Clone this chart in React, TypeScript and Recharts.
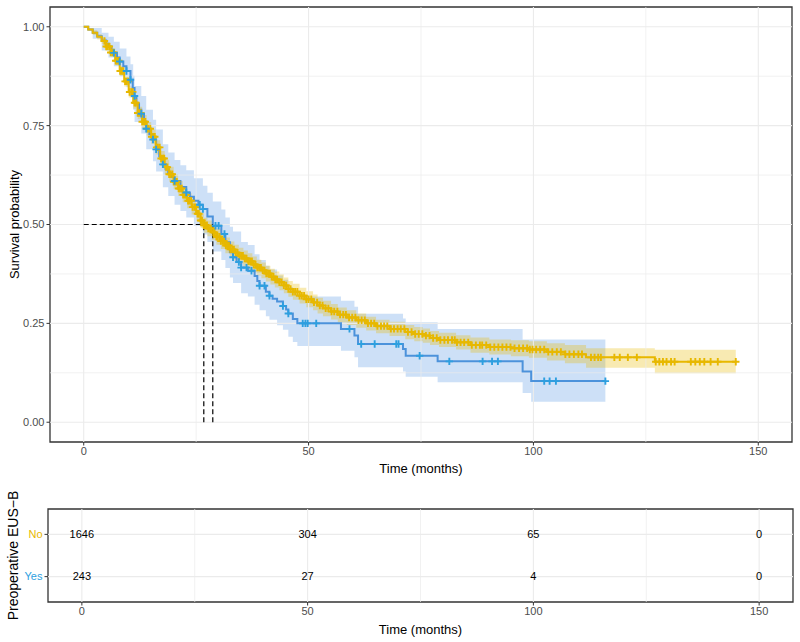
import {
  ComposedChart,
  Line,
  Area,
  Scatter,
  XAxis,
  YAxis,
  ReferenceLine,
  ReferenceArea,
  Label,
} from "recharts";

/* ---------- Kaplan-Meier curve: Preoperative EUS-B = No ---------- */
const noTimes = [0, 1, 2, 3, 4, 5, 6, 7, 8, 9, 10, 11, 12, 13, 14, 15, 16, 17, 18, 19, 20, 21, 22, 23, 24, 25, 26, 26.7, 27.5, 28.5, 29.5, 30.5, 31.5, 32.5, 33.5, 34.5, 35.5, 36.5, 37.5, 38.5, 39.5, 40.5, 41.5, 42.5, 43.5, 44.5, 45.5, 46.5, 48, 49.5, 51, 52, 53.2, 55, 56.5, 58.5, 60.6, 62.8, 65, 68, 71.5, 73.5, 75.4, 77, 79, 82.8, 86, 90.2, 95, 99, 103, 107, 111.7, 127, 145];
const noSurv = [1, 0.993, 0.985, 0.975, 0.964, 0.95, 0.935, 0.914, 0.888, 0.862, 0.835, 0.808, 0.782, 0.76, 0.742, 0.722, 0.695, 0.667, 0.645, 0.627, 0.608, 0.591, 0.575, 0.56, 0.544, 0.527, 0.51, 0.498, 0.49, 0.48, 0.469, 0.458, 0.447, 0.437, 0.429, 0.421, 0.414, 0.407, 0.399, 0.391, 0.384, 0.376, 0.368, 0.361, 0.354, 0.346, 0.337, 0.33, 0.32, 0.311, 0.303, 0.295, 0.288, 0.28, 0.272, 0.265, 0.258, 0.25, 0.243, 0.236, 0.228, 0.223, 0.219, 0.213, 0.208, 0.202, 0.195, 0.19, 0.187, 0.184, 0.178, 0.172, 0.164, 0.153, 0.153];
const noLower = [1, 0.989, 0.979, 0.968, 0.956, 0.941, 0.925, 0.903, 0.876, 0.849, 0.821, 0.793, 0.766, 0.743, 0.725, 0.704, 0.677, 0.648, 0.626, 0.608, 0.589, 0.572, 0.556, 0.541, 0.525, 0.508, 0.491, 0.479, 0.47, 0.46, 0.449, 0.438, 0.427, 0.417, 0.409, 0.401, 0.394, 0.387, 0.379, 0.371, 0.364, 0.356, 0.348, 0.341, 0.334, 0.326, 0.317, 0.31, 0.3, 0.291, 0.283, 0.275, 0.268, 0.26, 0.252, 0.246, 0.239, 0.232, 0.225, 0.218, 0.21, 0.205, 0.201, 0.195, 0.19, 0.184, 0.176, 0.171, 0.167, 0.163, 0.156, 0.149, 0.138, 0.124, 0.124];
const noUpper = [1, 0.997, 0.991, 0.982, 0.972, 0.959, 0.945, 0.925, 0.9, 0.875, 0.849, 0.823, 0.798, 0.777, 0.759, 0.74, 0.713, 0.686, 0.664, 0.646, 0.627, 0.61, 0.594, 0.579, 0.563, 0.546, 0.529, 0.517, 0.51, 0.5, 0.489, 0.478, 0.467, 0.457, 0.449, 0.441, 0.434, 0.427, 0.419, 0.411, 0.404, 0.396, 0.388, 0.381, 0.374, 0.366, 0.357, 0.35, 0.34, 0.331, 0.323, 0.315, 0.307, 0.299, 0.29, 0.283, 0.275, 0.267, 0.259, 0.254, 0.246, 0.241, 0.237, 0.231, 0.226, 0.22, 0.214, 0.209, 0.207, 0.205, 0.2, 0.195, 0.187, 0.183, 0.183];
const noCensored = [
  4.6, 5.0, 5.3, 5.7, 6.0, 6.4, 6.7, 7.1, 7.4, 7.8, 8.1, 8.5, 8.8, 9.2, 9.5, 9.9, 10.2, 10.6, 10.9, 11.3, 11.6, 12.0, 12.3, 12.7, 13.0, 13.4, 13.7, 14.1, 14.4, 14.8, 15.1, 15.5, 15.8, 16.2, 16.5, 16.9, 17.2, 17.6, 17.9, 18.3, 18.6, 19.0, 19.3, 19.7, 20.0, 20.4, 20.7, 21.1, 21.4, 21.8, 22.1, 22.5, 22.8, 23.2, 23.5, 23.9, 24.2, 24.6, 24.9, 25.3, 25.6, 26.0, 26.3, 26.7, 27.0, 27.4, 27.7, 28.1, 28.4, 28.8, 29.1, 29.5, 29.8, 30.2, 30.5, 30.9, 31.2, 31.6, 31.9, 32.3, 32.6, 33.0, 33.4, 33.8, 34.2, 34.6, 35.0, 35.4, 35.8, 36.2, 36.6, 37.0, 37.4, 37.8, 38.2, 38.6, 39.0, 39.4, 39.8, 40.2, 40.6, 41.0, 41.4, 41.8, 42.2, 42.6, 43.0, 43.5, 44.0, 44.5, 45.0, 45.5, 46.0, 46.5, 47.0, 47.5, 48.0, 48.5, 49.0, 49.5, 50.0,
  50.6, 51.2, 51.9, 52.5, 53.1, 53.8, 54.4, 55.1, 55.7, 56.4, 57.0, 57.7, 58.3, 59.0, 59.7, 60.4, 61.1, 61.8, 62.5, 63.2, 63.9, 64.6, 65.3, 66.1, 66.8, 67.5, 68.3, 69.0, 69.8, 70.5, 71.3, 72.1, 72.9, 73.7, 74.5, 75.3, 76.1, 76.9, 77.7, 78.5, 79.3, 80.2, 81.0, 81.9, 82.5, 83.0, 83.8, 84.6, 85.5, 86.3, 87.2, 88.1, 88.6, 89.5, 90.4, 91.3, 92.2, 93.1, 94.0, 94.9, 95.8, 96.8, 97.7, 98.6, 99.2, 99.8,
  100.6, 101.5, 102.4, 103.3, 104.2, 105.2, 106.1, 107.1, 108.0, 109.0, 110.0, 110.8, 112.8, 113.6, 114.4, 115.0, 118, 119.2, 121, 123, 127.2, 128, 128.8, 129.6, 130.6, 131.4, 135, 136, 137, 138, 139.4, 141, 145,
];

/* ---------- Kaplan-Meier curve: Preoperative EUS-B = Yes ---------- */
const yesTimes = [0, 1, 2, 3, 4, 5, 5.5, 6.2, 6.7, 7.4, 8, 8.8, 9.5, 10.4, 10.9, 11.3, 11.7, 12.3, 12.8, 13.4, 13.9, 14.6, 15.4, 16.1, 16.8, 17.6, 18.2, 18.8, 19.5, 20.2, 21.5, 22.8, 23.6, 24.5, 25.5, 26.5, 27.5, 28.7, 30.6, 31.5, 32.5, 33.2, 34, 35, 36.5, 38, 38.6, 39.1, 40.5, 41.3, 42, 43, 44.3, 45, 45.5, 46.5, 47.5, 57.2, 60.2, 61, 71, 71.6, 78.7, 97.6, 99.5, 116];
const yesSurv = [1, 0.993, 0.985, 0.976, 0.965, 0.957, 0.95, 0.94, 0.934, 0.922, 0.912, 0.9, 0.888, 0.866, 0.845, 0.825, 0.806, 0.79, 0.78, 0.76, 0.742, 0.728, 0.715, 0.69, 0.672, 0.652, 0.64, 0.63, 0.62, 0.61, 0.595, 0.581, 0.57, 0.56, 0.55, 0.539, 0.52, 0.497, 0.476, 0.455, 0.43, 0.417, 0.405, 0.391, 0.383, 0.37, 0.357, 0.345, 0.33, 0.32, 0.312, 0.305, 0.294, 0.285, 0.275, 0.261, 0.25, 0.236, 0.219, 0.198, 0.185, 0.168, 0.154, 0.128, 0.104, 0.104];
const yesBandTimes = [0, 2, 4, 5.5, 6.7, 8, 9.5, 10.4, 11, 11.3, 12.8, 13.9, 15.4, 16.1, 17.6, 18.8, 20.2, 21.5, 22.8, 24.5, 26.5, 27.5, 28.7, 30.6, 31.5, 32.5, 33.2, 35, 36.5, 38, 39.1, 40.5, 41.3, 43, 44.3, 45.5, 46.5, 47.5, 57.2, 60.2, 61, 71, 71.6, 78.7, 97.6, 99.5, 116];
const yesLower = [1, 0.97, 0.94, 0.922, 0.9, 0.875, 0.847, 0.822, 0.79, 0.759, 0.73, 0.69, 0.66, 0.634, 0.594, 0.572, 0.55, 0.534, 0.518, 0.497, 0.475, 0.456, 0.432, 0.41, 0.39, 0.366, 0.352, 0.326, 0.318, 0.297, 0.283, 0.268, 0.259, 0.245, 0.234, 0.216, 0.203, 0.193, 0.181, 0.164, 0.139, 0.128, 0.115, 0.101, 0.074, 0.052, 0.052];
const yesUpper = [1, 0.997, 0.985, 0.975, 0.962, 0.945, 0.925, 0.905, 0.876, 0.85, 0.825, 0.79, 0.765, 0.74, 0.703, 0.682, 0.663, 0.65, 0.637, 0.617, 0.598, 0.58, 0.558, 0.538, 0.518, 0.494, 0.482, 0.456, 0.448, 0.425, 0.41, 0.396, 0.386, 0.371, 0.36, 0.342, 0.328, 0.318, 0.307, 0.292, 0.274, 0.262, 0.253, 0.236, 0.209, 0.209, 0.209];
const yesCensored = [6.7, 8.0, 9.5, 10.4, 11.3, 12.8, 13.9, 15.4, 16.1, 17.6, 20.2, 22.8, 25.8, 26.5, 29.3, 30.0, 31.3, 33.2, 34.5, 35.0, 36.2, 37.3, 39.1, 40.2, 41.3, 44.3, 45.5, 48.7, 49.3, 49.8, 51.7, 59.1, 61.7, 64.7, 69.5, 70.0, 74.7, 81.3, 88.7, 90.8, 92.1, 102.4, 103.6, 105, 116];

/* ---------- median survival ---------- */
const medianNo = 26.7;
const medianYes = 28.7;

/* ---------- number at risk ---------- */
const riskTimes = [0, 50, 100, 150];
const riskNo = [1646, 304, 65, 0];
const riskYes = [243, 27, 4, 0];

const xTicks = [0, 50, 100, 150];
const xMinor = [25, 75, 125];
const yTicks = [0, 0.25, 0.5, 0.75, 1];
const yMinor = [0.125, 0.375, 0.625, 0.875];

const YELLOW = "#E7B800";
const BLUE = "#2E9FDF";
const GRID = "#EBEBEB";
const X_DOMAIN = [-7.5, 157.5];

// step-function lookup: survival value in effect at time t
const survivalAt = (times: number[], surv: number[], t: number) => {
  let s = surv[0];
  for (let i = 0; i < times.length; i++) if (times[i] <= t) s = surv[i];
  return s;
};

const lineRows = (times: number[], surv: number[]) => times.map((t, i) => ({ t, s: surv[i] }));
const bandRows = (times: number[], lo: number[], hi: number[]) =>
  times.map((t, i) => ({ t, band: [lo[i], hi[i]] }));
const censorRows = (cens: number[], times: number[], surv: number[]) =>
  cens.map((t) => ({ t, s: survivalAt(times, surv, t) }));

const noLine = lineRows(noTimes, noSurv);
const noBand = bandRows(noTimes, noLower, noUpper);
const yesLine = lineRows(yesTimes, yesSurv);
const yesBand = bandRows(yesBandTimes, yesLower, yesUpper);
const noCens = censorRows(noCensored, noTimes, noSurv);
const yesCens = censorRows(yesCensored, yesTimes, yesSurv);

const riskRows = [
  ...riskTimes.map((t, i) => ({ t, row: 2, n: riskNo[i] })),
  ...riskTimes.map((t, i) => ({ t, row: 1, n: riskYes[i] })),
];

const plus = (color: string) => (props: any) => {
  const { cx, cy } = props;
  if (cx == null || cy == null) return <g />;
  return (
    <path
      d={`M${cx - 3.7},${cy}H${cx + 3.7}M${cx},${cy - 3.7}V${cy + 3.7}`}
      stroke={color}
      strokeWidth={1.9}
      fill="none"
    />
  );
};

const RiskText = (props: any) => {
  const { cx, cy, payload } = props;
  return (
    <text x={cx} y={cy} dy="0.35em" textAnchor="middle" fontSize={11} fill="#000">
      {payload.n}
    </text>
  );
};

const StrataTick = (props: any) => {
  const { x, y, payload } = props;
  const isNo = payload.value === 2;
  return (
    <text x={x} y={y} dy="0.35em" textAnchor="end" fontSize={11} fill={isNo ? YELLOW : BLUE}>
      {isNo ? "No" : "Yes"}
    </text>
  );
};

const tickStyle = { fontSize: 11, fill: "#4D4D4D" };
const dashed = { stroke: "#000", strokeWidth: 1.2, strokeDasharray: "5 3" };

export default function App() {
  return (
    <div
      style={{
        position: "absolute",
        left: 0,
        top: 0,
        width: 800,
        height: 642,
        background: "#fff",
        fontFamily: "'Liberation Sans', Arial, sans-serif",
      }}
    >
      {/* survival curves */}
      <div style={{ position: "absolute", left: 0, top: 0 }}>
        <ComposedChart width={800} height={476} margin={{ top: 7, right: 8, bottom: 0, left: 0 }}>
          <XAxis
            type="number"
            dataKey="t"
            domain={X_DOMAIN}
            ticks={xTicks}
            allowDataOverflow
            height={34}
            tick={tickStyle}
            tickSize={3.5}
            tickMargin={2}
            tickLine={{ stroke: "#333" }}
            axisLine={false}
          >
            <Label value="Time (months)" position="insideBottom" offset={3} style={{ fontSize: 13, fill: "#000" }} />
          </XAxis>
          <YAxis
            type="number"
            dataKey="s"
            domain={[-0.05, 1.05]}
            ticks={yTicks}
            allowDataOverflow
            width={50}
            tick={tickStyle}
            tickSize={3.5}
            tickMargin={2}
            tickLine={{ stroke: "#333" }}
            axisLine={false}
            tickFormatter={(v: number) => v.toFixed(2)}
          >
            <Label
              value="Survival probability"
              angle={-90}
              position="insideLeft"
              offset={14}
              style={{ fontSize: 13, fill: "#000", textAnchor: "middle" }}
            />
          </YAxis>

          {yMinor.map((v) => (
            <ReferenceLine key={`ym${v}`} y={v} stroke={GRID} strokeWidth={0.7} />
          ))}
          {xMinor.map((v) => (
            <ReferenceLine key={`xm${v}`} x={v} stroke={GRID} strokeWidth={0.7} />
          ))}
          {yTicks.map((v) => (
            <ReferenceLine key={`y${v}`} y={v} stroke={GRID} strokeWidth={1.1} />
          ))}
          {xTicks.map((v) => (
            <ReferenceLine key={`x${v}`} x={v} stroke={GRID} strokeWidth={1.1} />
          ))}

          <Area
            data={yesBand}
            dataKey="band"
            type="stepAfter"
            stroke="none"
            fill="#4A90E2"
            fillOpacity={0.28}
            isAnimationActive={false}
          />
          <Area
            data={noBand}
            dataKey="band"
            type="stepAfter"
            stroke="none"
            fill={YELLOW}
            fillOpacity={0.3}
            isAnimationActive={false}
          />
          <Line
            data={yesLine}
            dataKey="s"
            type="stepAfter"
            stroke="#4C92DB"
            strokeWidth={2}
            dot={false}
            isAnimationActive={false}
          />
          <Line
            data={noLine}
            dataKey="s"
            type="stepAfter"
            stroke={YELLOW}
            strokeWidth={2}
            dot={false}
            isAnimationActive={false}
          />
          <Scatter data={noCens} shape={plus(YELLOW)} isAnimationActive={false} />
          <Scatter data={yesCens} shape={plus(BLUE)} isAnimationActive={false} />

          {/* median survival guides */}
          <ReferenceLine segment={[{ x: 0, y: 0.5 }, { x: medianYes, y: 0.5 }]} {...dashed} />
          <ReferenceLine segment={[{ x: medianNo, y: 0 }, { x: medianNo, y: 0.5 }]} {...dashed} />
          <ReferenceLine segment={[{ x: medianYes, y: 0 }, { x: medianYes, y: 0.5 }]} {...dashed} />

          <ReferenceArea
            x1={X_DOMAIN[0]}
            x2={X_DOMAIN[1]}
            y1={-0.05}
            y2={1.05}
            fill="none"
            fillOpacity={0}
            stroke="#333"
            strokeWidth={1.3}
          />
        </ComposedChart>
      </div>

      {/* number at risk table */}
      <div style={{ position: "absolute", left: 0, top: 480 }}>
        <ComposedChart width={800} height={162} margin={{ top: 29, right: 7, bottom: 0, left: 0 }}>
          <XAxis
            type="number"
            dataKey="t"
            domain={X_DOMAIN}
            ticks={xTicks}
            allowDataOverflow
            height={40}
            tick={tickStyle}
            tickSize={3.5}
            tickMargin={2}
            tickLine={{ stroke: "#333" }}
            axisLine={false}
          >
            <Label value="Time (months)" position="insideBottom" offset={8} style={{ fontSize: 13, fill: "#000" }} />
          </XAxis>
          <YAxis
            type="number"
            dataKey="row"
            domain={[0.4, 2.6]}
            ticks={[1, 2]}
            allowDataOverflow
            width={48}
            tick={<StrataTick />}
            tickSize={3.5}
            tickMargin={2}
            tickLine={{ stroke: "#333" }}
            axisLine={false}
          >
            <Label
              value="Preoperative EUS−B"
              angle={-90}
              position="insideLeft"
              offset={13}
              style={{ fontSize: 14, fill: "#000", textAnchor: "middle" }}
            />
          </YAxis>

          {xMinor.map((v) => (
            <ReferenceLine key={`rxm${v}`} x={v} stroke={GRID} strokeWidth={0.7} />
          ))}
          {xTicks.map((v) => (
            <ReferenceLine key={`rx${v}`} x={v} stroke={GRID} strokeWidth={1.1} />
          ))}
          {[1, 2].map((v) => (
            <ReferenceLine key={`ry${v}`} y={v} stroke={GRID} strokeWidth={1.1} />
          ))}

          <Scatter data={riskRows} shape={<RiskText />} isAnimationActive={false} />

          <ReferenceArea
            x1={X_DOMAIN[0]}
            x2={X_DOMAIN[1]}
            y1={0.4}
            y2={2.6}
            fill="none"
            fillOpacity={0}
            stroke="#333"
            strokeWidth={1.3}
          />
        </ComposedChart>
      </div>
    </div>
  );
}
